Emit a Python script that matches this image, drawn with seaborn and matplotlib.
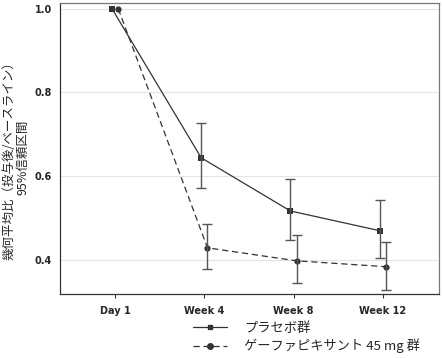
import numpy as np
import pandas as pd
import seaborn as sns
import matplotlib.pyplot as plt
from matplotlib.lines import Line2D

visits = ['Day 1', 'Week 4', 'Week 8', 'Week 12']
groups = ['プラセボ群', 'ゲーファピキサント 45 mg 群']

placebo_mean = [1.0, 0.644, 0.517, 0.470]
placebo_low = [1.0, 0.571, 0.448, 0.405]
placebo_high = [1.0, 0.728, 0.594, 0.544]

gefa_mean = [1.0, 0.429, 0.398, 0.384]
gefa_low = [1.0, 0.379, 0.345, 0.329]
gefa_high = [1.0, 0.486, 0.460, 0.443]

sns.set_style('white')
plt.rcParams['font.family'] = ['Noto Sans CJK JP', 'DejaVu Sans']

rows = []
for g, m, lo, hi, off in [(groups[0], placebo_mean, placebo_low, placebo_high, -0.035),
                          (groups[1], gefa_mean, gefa_low, gefa_high, 0.035)]:
    for i, v in enumerate(visits):
        rows.append({'group': g, 'visit': v, 'x': i + off, 'mean': m[i], 'low': lo[i], 'high': hi[i]})
df = pd.DataFrame(rows)

fig = plt.figure(figsize=(4.43, 3.58), dpi=100)
ax = fig.add_axes([0.135, 0.179, 0.856, 0.813])

line_col = '#333333'
sns.lineplot(data=df, x='x', y='mean', hue='group', style='group',
             palette=[line_col, line_col], dashes=[(None, None), (5, 3)],
             markers=['s', 'o'], markersize=4.5, markeredgewidth=0,
             linewidth=0.9, legend=False, ax=ax)

# confidence intervals
for _, r in df.iterrows():
    if r['high'] > r['low']:
        ax.errorbar(r['x'], r['mean'], yerr=[[r['mean'] - r['low']], [r['high'] - r['mean']]],
                    fmt='none', ecolor='#555555', elinewidth=1.0, capsize=3.5, capthick=1.0)

ax.set_xlim(-0.62, 3.63)
ax.set_ylim(0.319, 1.014)
ax.set_xticks(range(len(visits)))
ax.set_xticklabels(visits)
ax.set_yticks([0.4, 0.6, 0.8, 1.0])
ax.set_yticklabels(['0.4', '0.6', '0.8', '1.0'])
ax.yaxis.grid(True, color='#e4e4e4', linewidth=0.8)
ax.set_axisbelow(True)
ax.tick_params(axis='x', bottom=True, length=3, width=0.8, color='#333333', labelsize=7, pad=6)
ax.tick_params(axis='y', left=False, labelsize=7, pad=2)
for lab in ax.get_xticklabels() + ax.get_yticklabels():
    lab.set_family(['Liberation Sans Narrow', 'DejaVu Sans'])
    lab.set_fontweight('bold')
for s in ax.spines.values():
    s.set_color('#777777')
    s.set_linewidth(0.9)
ax.spines['left'].set_color('#333333')
ax.spines['bottom'].set_color('#333333')
ax.set_xlabel('')
ax.set_ylabel('幾何平均比（投与後/ベースライン）\n95%信頼区間', fontsize=9, linespacing=1.1)
ax.yaxis.set_label_coords(-0.08, 0.47)

handles = [Line2D([], [], color=line_col, lw=0.9, marker='s', markersize=3.5),
           Line2D([], [], color=line_col, lw=0.9, ls=(0, (5, 3)), marker='o', markersize=4)]
fig.legend(handles, groups, loc='upper left', bbox_to_anchor=(0.42, 0.12), frameon=False,
           fontsize=9.5, handlelength=2.6, handletextpad=1.3, labelspacing=0.3, borderpad=0)

fig.savefig('out.png', dpi=100)
